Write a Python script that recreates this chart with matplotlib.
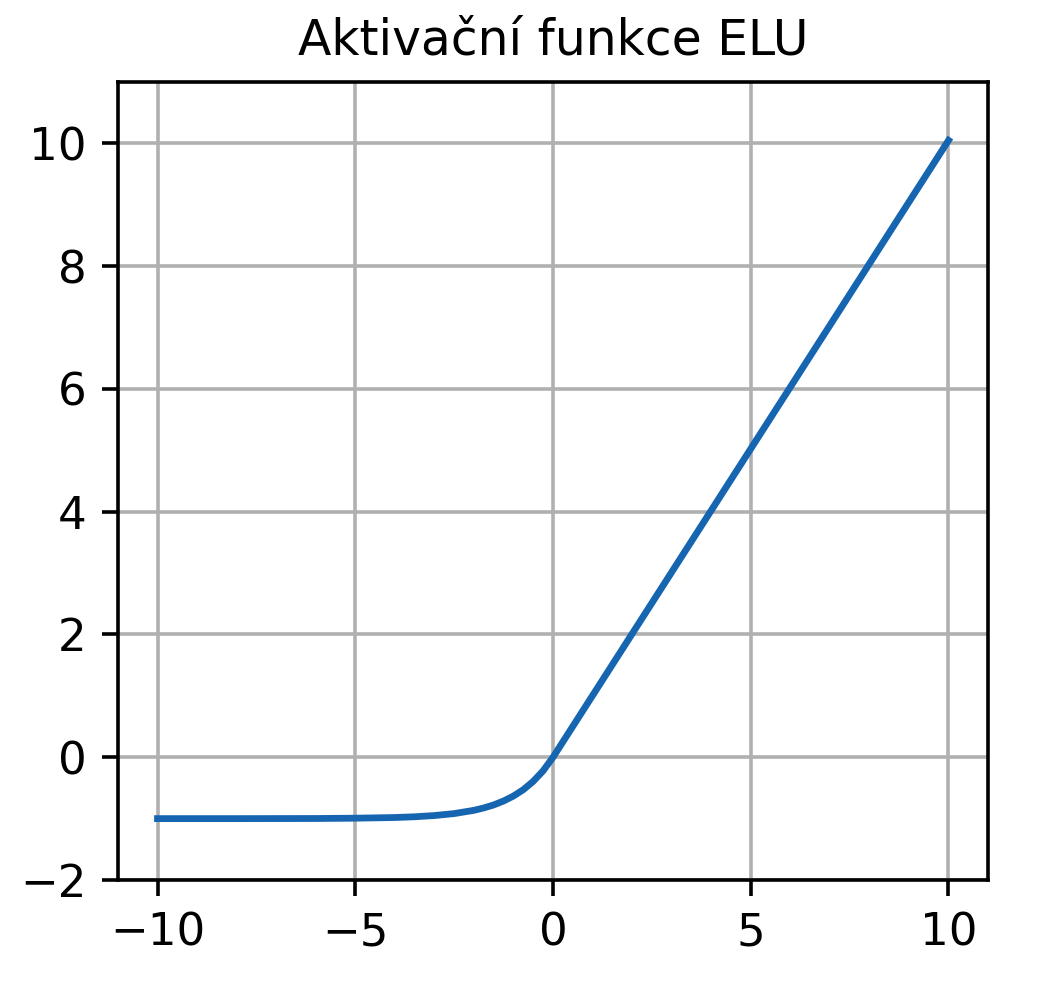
import matplotlib
matplotlib.use('Agg')
import matplotlib.pyplot as plt

# values
x_vals = [-10, -8, -6, -5, -4, -3.5, -3, -2.5, -2, -1.75, -1.5, -1.25, -1, -0.75, -0.5, -0.25, 0, 10]
y_vals = [-1.0, -1.0, -0.998, -0.993, -0.982, -0.97, -0.95, -0.918, -0.865, -0.826, -0.777, -0.713, -0.632, -0.528, -0.393, -0.221, 0.0, 10.05]

x_ticks = [-10, -5, 0, 5, 10]
y_ticks = [-2, 0, 2, 4, 6, 8, 10]
title = 'Aktivační funkce ELU'

dpi = 325
fig = plt.figure(figsize=(1059 / dpi, 992 / dpi), dpi=dpi)
ax = fig.add_axes([0.1114, 0.1129, 0.8216, 0.8044])

ax.plot(x_vals, y_vals, color='#1565b0', linewidth=1.5)
ax.set_xlim(-11, 11)
ax.set_ylim(-2, 11)
ax.set_xticks(x_ticks)
ax.set_yticks(y_ticks)
ax.grid(True)
ax.set_title(title, fontsize=10.8)

plt.savefig('out.png', dpi=dpi)
